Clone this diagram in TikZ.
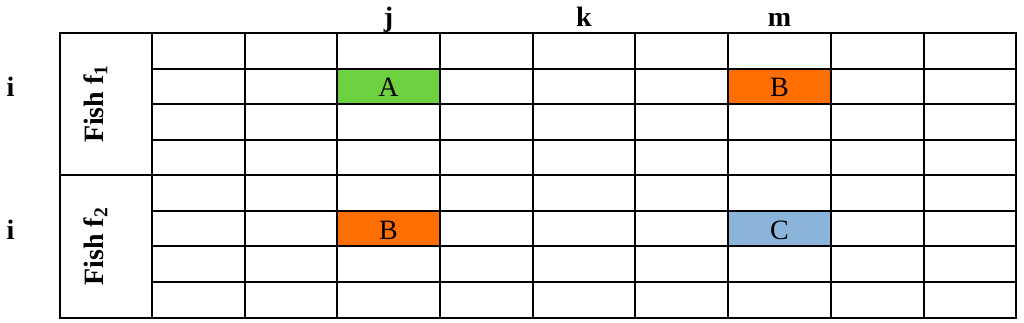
\documentclass[tikz,border=0pt]{standalone}
\usepackage{fontspec}
\setmainfont{Liberation Serif}
\definecolor{fishgreen}{RGB}{110,210,64}
\definecolor{fishorange}{RGB}{255,110,0}
\definecolor{fishblue}{RGB}{138,180,217}
\begin{document}
\begin{tikzpicture}[x=1pt,y=1pt,
  cell/.style={draw=black,line width=1.4pt,inner sep=0pt,outer sep=0pt,rectangle},
  lbl/.style={font=\fontsize{28}{34}\selectfont,inner sep=0pt},
  bold lbl/.style={font=\fontsize{28}{34}\selectfont\bfseries,inner sep=0pt},
  fill 2-3/.style={fill=fishgreen},
  fill 2-7/.style={fill=fishorange},
  fill 6-3/.style={fill=fishorange},
  fill 6-7/.style={fill=fishblue}]
\useasboundingbox (0,0) rectangle (1024,-323);
% grid cells
\foreach \xa/\xb [count=\c] in {152/245,245/337,337/440,440/533,533/635,635/728,728/831,831/924,924/1016}
  \foreach \ya/\yb [count=\r] in {33/69,69/104,104/140,140/175,175/211,211/246,246/282,282/318}
    \node[cell,fill=white,fill \r-\c/.try,minimum width={\xb-\xa},minimum height={\yb-\ya}]
      (c\r-\c) at ({(\xa+\xb)/2},{-(\ya+\yb)/2}) {};
% fish sections
\node[cell,minimum width=92,minimum height=142] (s1) at (106,-104) {};
\node[cell,minimum width=92,minimum height=143] (s2) at (106,-246.5) {};
\node[bold lbl,rotate=90,anchor=base] (f1) at (103,-104) {Fish f\textsubscript{1}};
\node[bold lbl,rotate=90,anchor=base] (f2) at (103,-246.5) {Fish f\textsubscript{2}};
% cell texts
\node[lbl,anchor=base] (tA) at (388.5,-97) {A};
\node[lbl,anchor=base] (tB1) at (779.5,-97) {B};
\node[lbl,anchor=base] (tB2) at (388.5,-239.5) {B};
\node[lbl,anchor=base] (tC) at (779.5,-239.5) {C};
% column labels
\node[bold lbl,anchor=base] (lj) at (388.5,-27) {j};
\node[bold lbl,anchor=base] (lk) at (584,-27) {k};
\node[bold lbl,anchor=base] (lm) at (779.5,-27) {m};
% row labels
\node[bold lbl,anchor=base] (i1) at (10.5,-97) {i};
\node[bold lbl,anchor=base] (i2) at (10.5,-239.5) {i};
\end{tikzpicture}
\end{document}
